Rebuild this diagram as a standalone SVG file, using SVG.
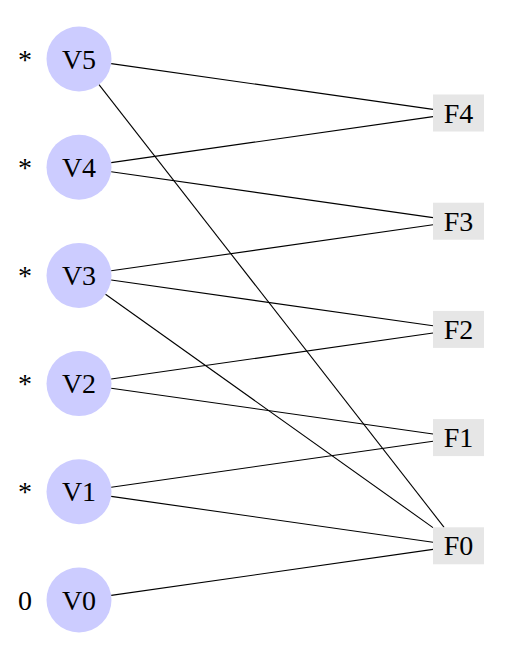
<svg xmlns="http://www.w3.org/2000/svg" width="508" height="651" viewBox="0 0 508 651">
<style>
.v{fill:#ccccff;stroke:none}
.f{fill:#e6e6e6;stroke:none}
text{font-family:"Liberation Serif","DejaVu Serif",serif;font-size:28px;fill:#000;text-anchor:middle}
.e line{stroke:#000;stroke-width:1.1}
</style>
<rect width="508" height="651" fill="#fff"/>
<g id="connectors" class="e">
<line x1="111.2" y1="63.6" x2="433" y2="109.4"/>
<line x1="99" y1="84.6" x2="444.1" y2="527.3"/>
<line x1="111.2" y1="162.6" x2="433" y2="116.6"/>
<line x1="111.2" y1="171.8" x2="433" y2="217.6"/>
<line x1="111.2" y1="270.8" x2="433" y2="224.8"/>
<line x1="111.2" y1="280" x2="433" y2="325.8"/>
<line x1="105.5" y1="294.3" x2="433" y2="527.6"/>
<line x1="111.2" y1="379" x2="433" y2="333"/>
<line x1="111.2" y1="388.2" x2="433" y2="434"/>
<line x1="111.2" y1="487.2" x2="433" y2="441.2"/>
<line x1="111.2" y1="496.4" x2="433" y2="542.2"/>
<line x1="111.2" y1="595.4" x2="433" y2="549.4"/>
</g>
<g id="V5"><circle class="v" cx="79" cy="59" r="32.5"/><text x="79" y="68.5">V5</text><text x="25" y="68.5">*</text></g>
<g id="V4"><circle class="v" cx="79" cy="167.2" r="32.5"/><text x="79" y="176.7">V4</text><text x="25" y="176.7">*</text></g>
<g id="V3"><circle class="v" cx="79" cy="275.4" r="32.5"/><text x="79" y="284.9">V3</text><text x="25" y="284.9">*</text></g>
<g id="V2"><circle class="v" cx="79" cy="383.6" r="32.5"/><text x="79" y="393.1">V2</text><text x="25" y="393.1">*</text></g>
<g id="V1"><circle class="v" cx="79" cy="491.8" r="32.5"/><text x="79" y="501.3">V1</text><text x="25" y="501.3">*</text></g>
<g id="V0"><circle class="v" cx="79" cy="600" r="32.5"/><text x="79" y="609.5">V0</text><text x="25" y="609.5">0</text></g>
<g id="F4"><rect class="f" x="433" y="94.5" width="51" height="37"/><text x="458.5" y="122.5">F4</text></g>
<g id="F3"><rect class="f" x="433" y="202.7" width="51" height="37"/><text x="458.5" y="230.7">F3</text></g>
<g id="F2"><rect class="f" x="433" y="310.9" width="51" height="37"/><text x="458.5" y="338.9">F2</text></g>
<g id="F1"><rect class="f" x="433" y="419.1" width="51" height="37"/><text x="458.5" y="447.1">F1</text></g>
<g id="F0"><rect class="f" x="433" y="527.3" width="51" height="37"/><text x="458.5" y="555.3">F0</text></g>
</svg>
